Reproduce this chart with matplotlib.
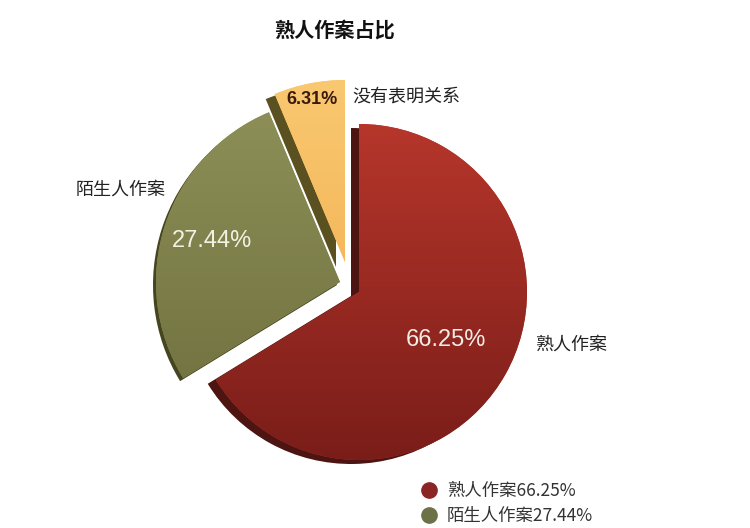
import matplotlib
matplotlib.use('Agg')
import matplotlib.pyplot as plt
import numpy as np
from matplotlib.colors import LinearSegmentedColormap
from matplotlib.lines import Line2D

# ---- data ----
title = '熟人作案占比'
categories = ['熟人作案', '陌生人作案', '没有表明关系']
shares = [66.25, 27.44, 6.31]
pct_labels = ['66.25%', '27.44%', '6.31%']
legend_labels = ['熟人作案66.25%', '陌生人作案27.44%']

# ---- style ----
W, H = 750, 528
# slice vertex (pixels from top-left), radius in pixels, side offset
vertex = [(359, 292), (340, 282), (345, 262)]
radius = [168, 184, 182]
side_off = [(-8, 4), (-3, 3), (-9, 5)]
face_top = ['#b6362b', '#8e9058', '#f9c870']
face_bottom = ['#7a1d19', '#6b6c3b', '#f0a848']
side_colors = ['#4d1512', '#45451f', '#5a5020']
legend_colors = ['#8b2525', '#6d7148']
pct_colors = ['#f6ece6', '#f3f1e2', '#3a1a10']
pct_dist = [0.59, 0.73, 0.91]

fig = plt.figure(figsize=(W / 100, H / 100), dpi=100)
ax = fig.add_axes([0, 0, 1, 1])

def px(x, y):
    return (x, H - y)

cjk = ['Noto Sans CJK SC', 'DejaVu Sans']
grad = np.linspace(0, 1, 256).reshape(-1, 1)

faces = []
for i in range(len(shares)):
    # extruded side (3D look)
    sx, sy = px(vertex[i][0] + side_off[i][0], vertex[i][1] + side_off[i][1])
    sw, _ = ax.pie(shares, startangle=90, counterclock=False,
                   colors=[side_colors[i]] * len(shares), center=(sx, sy),
                   radius=radius[i], frame=True,
                   wedgeprops=dict(linewidth=0, zorder=1))
    for j, w in enumerate(sw):
        w.set_visible(j == i)
    # face
    fw, _ = ax.pie(shares, startangle=90, counterclock=False,
                   colors=[face_top[i]] * len(shares), center=px(*vertex[i]),
                   radius=radius[i], frame=True,
                   wedgeprops=dict(linewidth=0, zorder=2))
    for j, w in enumerate(fw):
        w.set_visible(j == i)
    w = fw[i]
    faces.append(w)
    cmap = LinearSegmentedColormap.from_list('g%d' % i, [face_bottom[i], face_top[i]])
    wc, r = w.center, w.r
    im = ax.imshow(grad, cmap=cmap, origin='lower', aspect='auto',
                   extent=(wc[0] - r, wc[0] + r, wc[1] - r, wc[1] + r), zorder=3)
    im.set_clip_path(w)

# percentage labels inside the slices
for i, w in enumerate(faces):
    mid = np.deg2rad((w.theta1 + w.theta2) / 2)
    x = w.center[0] + pct_dist[i] * w.r * np.cos(mid)
    y = w.center[1] + pct_dist[i] * w.r * np.sin(mid)
    bold = (i == 2)
    ax.text(x, y, pct_labels[i], ha='center', va='center', color=pct_colors[i],
            fontsize=13 if bold else 17, fontweight='bold' if bold else 'normal',
            family=['Liberation Sans', 'DejaVu Sans'], zorder=5)

# category labels
ax.text(*px(535, 345), categories[0], ha='left', va='center', fontsize=13,
        family=cjk, color='#222222')
ax.text(*px(166, 190), categories[1], ha='right', va='center', fontsize=13,
        family=cjk, color='#222222')
ax.text(*px(352, 97), categories[2], ha='left', va='center', fontsize=13,
        family=cjk, color='#222222')

# title
ax.text(*px(335, 30), title, ha='center', va='center', fontsize=14.5,
        fontweight='bold', family=cjk, color='#111111')

ax.set_xlim(0, W)
ax.set_ylim(0, H)
ax.set_aspect('auto')
ax.axis('off')

handles = [Line2D([], [], marker='o', linestyle='', markersize=11,
                  markerfacecolor=c, markeredgecolor=c) for c in legend_colors]
leg = fig.legend(handles, legend_labels, loc='upper left',
                 bbox_to_anchor=(420 / W, 1 - 482 / H), frameon=False,
                 prop={'family': cjk, 'size': 12.5}, handlelength=1.0,
                 handletextpad=0.55, labelspacing=0.42, borderpad=0,
                 borderaxespad=0, labelcolor='#333333')

fig.savefig('out.png', dpi=100, facecolor='white')
